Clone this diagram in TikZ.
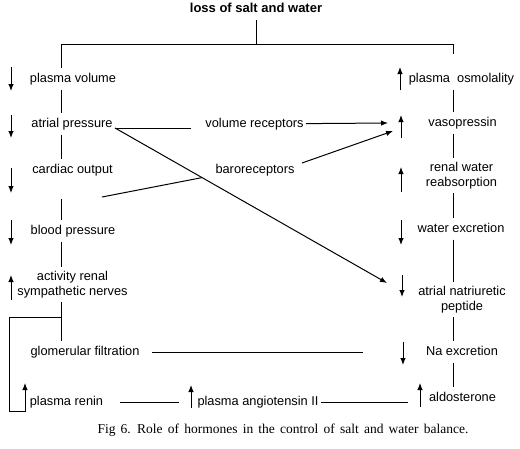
\documentclass[tikz,border=0pt]{standalone}
\usepackage{fontspec}
\setmainfont{Liberation Sans}
\newfontfamily\capfont{Liberation Serif}
\usetikzlibrary{calc,arrows.meta}

\begin{document}
\begin{tikzpicture}[x=1pt,y=-1pt,line width=1pt,
    lbl/.style={font=\fontsize{12.8}{15}\selectfont,inner xsep=2pt,inner ysep=4pt,text height=9.5pt,text depth=2.7pt},
    two/.style={font=\fontsize{12.8}{15}\selectfont,inner xsep=2pt,inner ysep=4pt,align=center},
    arr/.style={-{Latex[length=7pt,width=5.5pt]}}]
\useasboundingbox (0,0) rectangle (520,448);
                      % top
                      \node[lbl,font=\fontsize{13}{15}\selectfont\bfseries] (loss) at (256,9) {loss of salt and water};
                      \coordinate (lt) at (61,44);
                      \coordinate (rt) at (453,44);
                      \coordinate (jn) at (61,317);
                      % left column
                      \node[lbl] (pv) at (73,79) {plasma volume};
                      \node[lbl] (ap) at (72,124) {atrial pressure};
                      \node[lbl] (co) at (72.5,170) {cardiac output};
                      \node[lbl] (bp) at (73,231) {blood pressure};
                      \node[two] (rsn) at (72.5,284.5) {activity renal\\sympathetic nerves};
                      \node[lbl] (gf) at (85,352) {glomerular filtration};
                      \node[lbl] (pr) at (66.5,402) {plasma renin};
                      % middle
                      \node[lbl] (vr) at (254.5,124) {volume receptors};
                      \node[lbl] (br) at (255,170) {baroreceptors};
                      \node[lbl] (at2) at (258,402) {plasma angiotensin II};
                      % right column
                      \node[lbl] (osm) at (461.5,79) {plasma\ \ osmolality};
                      \node[lbl] (vp) at (462.5,123) {vasopressin};
                      \node[two] (rwr) at (461.5,175.5) {renal water\\reabsorption};
                      \node[lbl] (wex) at (461,229) {water excretion};
                      \node[two] (anp) at (462,299.5) {atrial natriuretic\\peptide};
                      \node[lbl] (nax) at (462,352) {Na excretion};
                      \node[lbl] (ald) at (462.5,398) {aldosterone};
                      \node[font=\capfont\fontsize{13.5}{15}\selectfont] (cap) at (283,430) {\spaceskip=5.2pt Fig 6. Role of hormones in the control of salt and water balance.};
                      % spines
                      \draw (loss) -- (loss |- lt);
                      \draw (lt) -- (rt);
                      \draw (lt) -- (pv.north -| lt);
                      \draw (pv.south -| lt) -- (ap.north -| lt);
                      \draw (ap.south -| lt) -- (co.north -| lt);
                      \draw[shorten <=18pt] (co.south -| lt) -- (bp.north -| lt);
                      \draw (bp.south -| lt) -- (rsn.north -| lt);
                      \draw (rsn.south -| lt) -- (gf.north -| lt);
                      \draw[arr] (jn) -- (9,317) -- (9,411) -- (25,411) -- (25,383);
                      \draw[shorten >=14pt] (rt) -- (osm.north -| rt);
                      \draw (osm.south -| rt) -- (vp.north -| rt);
                      \draw (vp.south -| rt) -- (rwr.north -| rt);
                      \draw (rwr.south -| rt) -- (wex.north -| rt);
                      \draw (wex.south -| rt) -- (anp.north -| rt);
                      \draw (anp.south -| rt) -- (nax.north -| rt);
                      \draw (nax.south -| rt) -- (ald.north -| rt);
                      % cross connections
                      \coordinate (va) at (388,123);
                      \coordinate (vb) at (393,131);
                      \coordinate (vn) at (387,283);
                      \coordinate (bs) at (102,197);
                      \coordinate (ge) at (363,352);
                      \coordinate (bx) at ($([yshift=-4pt]ap.east)!0.32!(vn)$);
                      \draw[shorten >=12pt] ([yshift=-4pt]ap.east) -- ([yshift=-4pt]vr.west);
                      \draw[arr] (vr) -- (va);
                      \draw[arr] ([yshift=-4pt]ap.east) -- (vn);
                      \draw (bs) -- (bx);
                      \draw[arr] ([xshift=5pt,yshift=7pt]br.east) -- (vb);
                      \draw[shorten <=10pt] (gf.east) -- (ge);
                      \draw[shorten <=14pt,shorten >=16pt] (pr) -- (at2);
                      \draw[shorten >=19pt] (at2.east) -- (at2.east -| ald.west);
                      % up and down marks
                      \draw[arr] (11,67) -- (11,91);
                      \draw[arr] (11,115) -- (11,138);
                      \draw[arr] (11,168) -- (11,193);
                      \draw[arr] (11,220) -- (11,245);
                      \draw[arr] (11,300) -- (11,275);
                      \draw[arr] (400,90) -- (400,67);
                      \draw[arr] (401,138) -- (401,115);
                      \draw[arr] (401,192) -- (401,167);
                      \draw[arr] (401,220) -- (401,245);
                      \draw[arr] (402,275) -- (402,297);
                      \draw[arr] (403,342) -- (403,365);
                      \draw[arr] (420,407) -- (420,383);
                      \draw[arr] (191,408) -- (191,385);
\end{tikzpicture}
\end{document}
